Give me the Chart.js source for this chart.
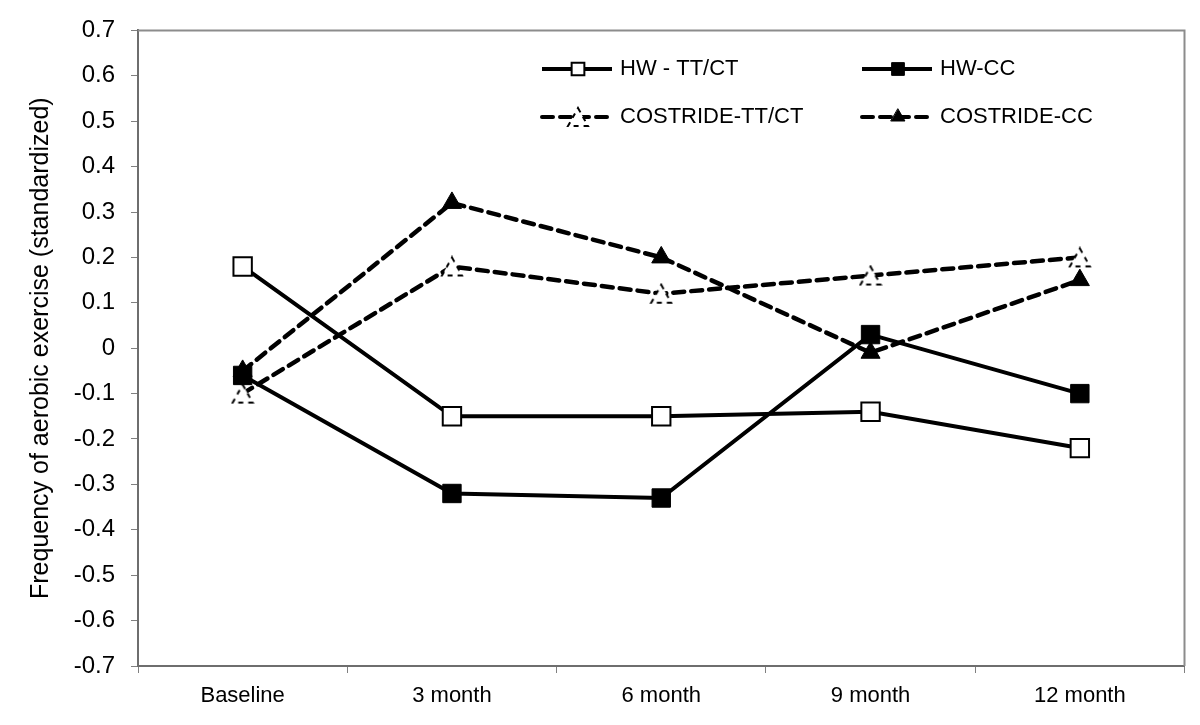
<!DOCTYPE html>
<html>
<head>
<meta charset="utf-8">
<script src="https://cdn.jsdelivr.net/npm/chart.js@4/dist/chart.umd.min.js"></script>
<style>
  html, body { margin: 0; padding: 0; background: #fff; }
  #wrap { width: 1200px; height: 725px; position: relative; }
</style>
</head>
<body>
<div id="wrap"><canvas id="grafico"></canvas></div>
<script>
// dados
const categories = ["Baseline", "3 month", "6 month", "9 month", "12 month"];
const hwTtct = [0.18, -0.15, -0.15, -0.14, -0.22];
const hwCc = [-0.06, -0.32, -0.33, 0.03, -0.10];
const costrideTtct = [-0.10, 0.18, 0.12, 0.16, 0.20];
const costrideCc = [-0.05, 0.32, 0.20, -0.01, 0.15];
const seriesNames = ["HW - TT/CT", "HW-CC", "COSTRIDE-TT/CT", "COSTRIDE-CC"];
const yMin = -0.7, yMax = 0.7, yStep = 0.1;

const FONT = "'Liberation Sans', Arial, sans-serif";

// marcador triangulo branco com contorno tracejado
function trianguloTracejado() {
    const c = document.createElement("canvas");
    c.width = 24; c.height = 22;
    const g = c.getContext("2d");
    g.beginPath();
    g.moveTo(12, 2); g.lineTo(22, 20); g.lineTo(2, 20); g.closePath();
    g.fillStyle = "#fff";
    g.fill();
    g.setLineDash([5, 5]);
    g.lineWidth = 2;
    g.strokeStyle = "#000";
    g.stroke();
    return c;
}

const dashed = [11, 7];

const datasets = [
    { label: seriesNames[0], data: hwTtct, borderColor: "#000", borderWidth: 4,
      pointStyle: "rect", pointRadius: 13, pointBackgroundColor: "#fff",
      pointBorderColor: "#000", pointBorderWidth: 2 },
    { label: seriesNames[1], data: hwCc, borderColor: "#000", borderWidth: 4,
      pointStyle: "rect", pointRadius: 13, pointBackgroundColor: "#000",
      pointBorderColor: "#000", pointBorderWidth: 1 },
    { label: seriesNames[2], data: costrideTtct, borderColor: "#000", borderWidth: 4.5,
      borderDash: dashed, borderCapStyle: "round",
      pointStyle: trianguloTracejado(), pointRadius: 11 },
    { label: seriesNames[3], data: costrideCc, borderColor: "#000", borderWidth: 4.5,
      borderDash: dashed, borderCapStyle: "round",
      pointStyle: "triangle", pointRadius: 11, pointBackgroundColor: "#000",
      pointBorderColor: "#000", pointBorderWidth: 1 }
];
datasets.forEach(d => { d.tension = 0; d.fill = false; });

// legenda desenhada dentro da area do grafico (2 x 2)
const legendaPlugin = {
    id: "legenda",
    afterDraw(chart) {
        const ctx = chart.ctx;
        const pos = [[542, 69], [862, 69], [542, 117], [862, 117]];
        chart.data.datasets.forEach((d, i) => {
            const [x, y] = pos[i];
            ctx.save();
            ctx.strokeStyle = "#000";
            ctx.lineWidth = 4;
            ctx.lineCap = d.borderDash ? "round" : "butt";
            ctx.setLineDash(d.borderDash || []);
            ctx.beginPath();
            ctx.moveTo(x, y);
            ctx.lineTo(x + 70, y);
            ctx.stroke();
            ctx.setLineDash([]);
            ctx.fillStyle = d.pointBackgroundColor || "#fff";
            ctx.strokeStyle = "#000";
            ctx.lineWidth = d.pointBorderWidth || 1;
            Chart.helpers.drawPoint(ctx, {
                pointStyle: d.pointStyle,
                radius: d.pointStyle === "rect" ? 9 : 8,
                borderWidth: d.pointBorderWidth || 1,
                rotation: 0
            }, x + 36, y);
            ctx.fillStyle = "#000";
            ctx.font = "22px " + FONT;
            ctx.textBaseline = "middle";
            ctx.textAlign = "left";
            ctx.fillText(d.label, x + 78, y);
            ctx.restore();
        });
    }
};

// borda cinza no topo e na direita
const bordaPlugin = {
    id: "borda",
    beforeDatasetsDraw(chart) {
        const { left, right, top, bottom } = chart.chartArea;
        const ctx = chart.ctx;
        ctx.save();
        ctx.strokeStyle = "#8c8c8c";
        ctx.lineWidth = 2;
        ctx.beginPath();
        ctx.moveTo(left, top);
        ctx.lineTo(right, top);
        ctx.lineTo(right, bottom);
        ctx.stroke();
        ctx.restore();
    }
};

new Chart(document.getElementById("grafico"), {
    type: "line",
    data: { labels: categories, datasets: datasets },
    options: {
        responsive: true,
        maintainAspectRatio: false,
        animation: false,
        layout: { padding: { left: 0, top: 30, right: 13, bottom: 0 } },
        plugins: { legend: { display: false }, tooltip: { enabled: false } },
        scales: {
            x: {
                offset: true,
                afterFit: s => { s.height = 59; },
                grid: { offset: true, drawOnChartArea: false, drawTicks: true, tickLength: 7, color: "#808080", lineWidth: 1 },
                border: { color: "#6e6e6e", width: 2 },
                ticks: { color: "#000", font: { family: FONT, size: 22 }, padding: 10, maxRotation: 0 }
            },
            y: {
                min: yMin, max: yMax,
                afterFit: s => { s.width = 138; },
                grid: { drawOnChartArea: false, drawTicks: true, tickLength: 7, color: "#808080", lineWidth: 1 },
                border: { color: "#6e6e6e", width: 2 },
                ticks: {
                    stepSize: yStep,
                    color: "#000",
                    font: { family: FONT, size: 24 },
                    padding: 16,
                    callback: v => String(Math.round(v * 10) / 10)
                },
                title: {
                    display: true,
                    text: "Frequency of aerobic exercise (standardized)",
                    color: "#000",
                    font: { family: FONT, size: 25 },
                    padding: { top: 26, bottom: 0 }
                }
            }
        }
    },
    plugins: [legendaPlugin, bordaPlugin]
});
</script>
</body>
</html>
